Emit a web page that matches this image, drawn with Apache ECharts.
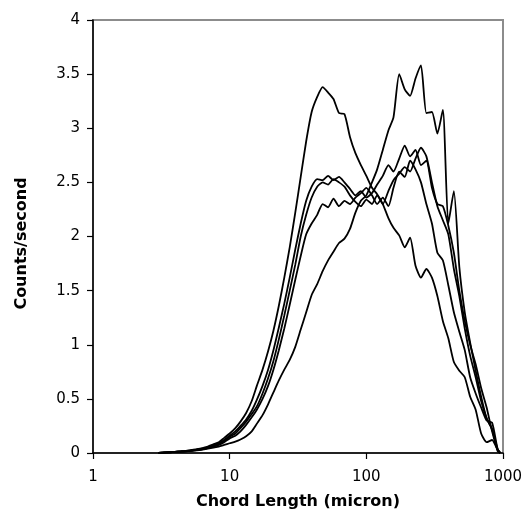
<!DOCTYPE html>
<html>
<head>
<meta charset="utf-8">
<script src="https://cdn.jsdelivr.net/npm/echarts@6/dist/echarts.min.js"></script>
<style>html,body{margin:0;padding:0;background:#fff;}#chart{width:527px;height:512px;}</style>
</head>
<body>
<div id="chart"></div>
<script>
// Chord length bins (micron)
const chordLength = [3.02,3.31,3.63,3.98,4.37,4.79,5.25,5.75,6.31,6.92,7.59,8.32,9.12,10.0,11.0,12.0,13.2,14.5,15.8,17.4,19.1,20.9,22.9,25.1,27.5,30.2,33.1,36.3,39.8,43.7,47.9,52.5,57.5,63.1,69.2,75.9,83.2,91.2,100,110,120,132,145,158,174,191,209,229,251,275,302,331,363,398,437,479,525,575,631,692,759,832,912,955];

// Counts/second for each run
const runA = [0,0.005,0.008,0.01,0.015,0.02,0.028,0.035,0.045,0.06,0.08,0.1,0.14,0.18,0.23,0.29,0.37,0.48,0.62,0.77,0.94,1.13,1.36,1.62,1.9,2.22,2.55,2.88,3.15,3.29,3.38,3.33,3.27,3.14,3.13,2.92,2.77,2.66,2.56,2.45,2.39,2.3,2.17,2.08,2.01,1.9,1.99,1.73,1.62,1.7,1.62,1.45,1.22,1.06,0.84,0.76,0.7,0.52,0.4,0.18,0.1,0.12,0.03,0];
const runB = [0,0.004,0.007,0.01,0.013,0.016,0.02,0.025,0.032,0.04,0.05,0.06,0.075,0.09,0.105,0.125,0.155,0.2,0.27,0.35,0.45,0.56,0.67,0.77,0.86,0.98,1.14,1.3,1.46,1.56,1.68,1.78,1.86,1.94,1.98,2.07,2.22,2.33,2.38,2.5,2.62,2.8,2.98,3.1,3.5,3.36,3.3,3.46,3.58,3.14,3.15,2.95,3.17,2.12,2.42,1.72,1.3,1.02,0.76,0.52,0.32,0.22,0.04,0];
const runC = [0,0.005,0.007,0.01,0.014,0.018,0.025,0.03,0.04,0.05,0.07,0.09,0.12,0.16,0.2,0.25,0.31,0.39,0.49,0.62,0.77,0.95,1.16,1.38,1.62,1.88,2.12,2.33,2.46,2.53,2.52,2.56,2.52,2.55,2.5,2.44,2.38,2.42,2.36,2.4,2.48,2.56,2.66,2.6,2.72,2.84,2.74,2.8,2.66,2.7,2.45,2.3,2.28,2.1,1.85,1.5,1.22,1.0,0.82,0.6,0.42,0.2,0.03,0];
const runD = [0,0.004,0.007,0.01,0.013,0.017,0.022,0.028,0.037,0.047,0.062,0.08,0.11,0.15,0.18,0.23,0.29,0.36,0.43,0.55,0.69,0.85,1.05,1.27,1.5,1.74,2.0,2.2,2.36,2.46,2.5,2.48,2.53,2.5,2.46,2.38,2.32,2.28,2.34,2.3,2.38,2.3,2.42,2.52,2.58,2.64,2.6,2.72,2.82,2.74,2.5,2.28,2.15,2.02,1.7,1.45,1.15,0.9,0.7,0.48,0.32,0.22,0.02,0];
const runE = [0,0.004,0.006,0.009,0.012,0.016,0.02,0.026,0.034,0.044,0.058,0.075,0.1,0.135,0.16,0.2,0.26,0.33,0.4,0.5,0.62,0.77,0.95,1.15,1.37,1.6,1.82,2.02,2.12,2.2,2.3,2.27,2.35,2.28,2.33,2.3,2.36,2.4,2.45,2.38,2.3,2.36,2.28,2.45,2.6,2.55,2.7,2.62,2.5,2.3,2.12,1.85,1.78,1.55,1.3,1.12,0.95,0.7,0.55,0.42,0.3,0.28,0.04,0];

const runs = [runA, runB, runC, runD, runE];
const FONT = 'DejaVu Sans';

const chart = echarts.init(document.getElementById('chart'), null, {renderer: 'canvas'});
chart.setOption({
  animation: false,
  backgroundColor: '#fff',
  grid: {left: 93, right: 24, top: 20, bottom: 59, show: true, borderColor: '#8c8c8c', borderWidth: 2, outerBoundsMode: 'none', containLabel: false},
  xAxis: {
    type: 'log', logBase: 10, min: 1, max: 1000,
    name: 'Chord Length (micron)', nameLocation: 'middle', nameGap: 41,
    nameTextStyle: {fontFamily: FONT, fontWeight: 'bold', fontSize: 16, color: '#000'},
    axisLine: {lineStyle: {color: '#000', width: 1.5}},
    axisTick: {length: 6, lineStyle: {color: '#000', width: 1.2}},
    axisLabel: {fontFamily: FONT, fontSize: 15, color: '#000', margin: 17, formatter: v => String(Math.round(v))},
    splitLine: {show: false}, minorTick: {show: false}
  },
  yAxis: {
    type: 'value', min: 0, max: 4, interval: 0.5,
    name: 'Counts/second', nameLocation: 'middle', nameGap: 63, nameRotate: 90,
    nameTextStyle: {fontFamily: FONT, fontWeight: 'bold', fontSize: 16, color: '#000', padding: [0, 14, 0, 0]},
    axisLine: {show: true, lineStyle: {color: '#000', width: 1.5}},
    axisTick: {show: true, length: 6, lineStyle: {color: '#000', width: 1.2}},
    axisLabel: {fontFamily: FONT, fontSize: 15, color: '#000', margin: 13},
    splitLine: {show: false}
  },
  series: runs.map(r => ({
    type: 'line',
    data: chordLength.map((x, i) => [x, r[i]]),
    showSymbol: false,
    smooth: 0.2,
    lineStyle: {color: '#000', width: 1.8},
    silent: true
  }))
});
</script>
</body>
</html>
